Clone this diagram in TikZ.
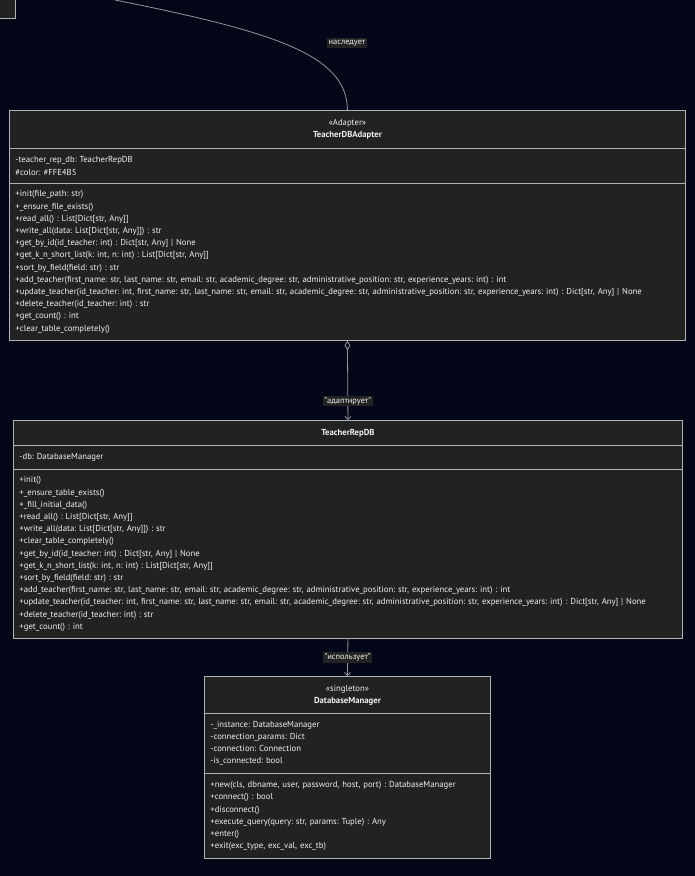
\documentclass[tikz,border=0pt]{standalone}
\usepackage{fontspec}
\setmainfont{PT Sans}
\usepackage{xcolor}
\usetikzlibrary{arrows.meta}

\definecolor{bgnavy}{RGB}{3,7,24}
\definecolor{boxfill}{RGB}{34,34,34}
\definecolor{boxline}{RGB}{178,178,178}
\definecolor{boxtext}{RGB}{240,240,240}
\definecolor{edgeline}{RGB}{150,150,155}
\frenchspacing

\begin{document}
\begin{tikzpicture}[x=1pt, y=-1pt,
  cls/.style={draw=boxline, line width=0.9pt, fill=boxfill, text=boxtext,
              anchor=north west, inner ysep=0pt, inner xsep=6pt,
              font=\fontsize{8.7}{12.2}\selectfont},
  head/.style={cls, align=center},
  part/.style={cls, align=left},
  elabel/.style={fill=boxfill, text=boxtext, inner sep=1.5pt,
                 font=\fontsize{8.4}{10}\selectfont},
  edge/.style={draw=edgeline, line width=0.8pt},
  >=Stealth
]
  \fill[bgnavy] (0,0) rectangle (695,876);
  \useasboundingbox (0,0) rectangle (695,876);
  \clip (0,0) rectangle (695,876);
  % parent class, cut off at the top edge
  \draw[draw=boxline, line width=0.9pt, fill=boxfill] (-30,-30) rectangle (15,18);

  % TeacherDBAdapter
  \node[head, minimum width=676pt, minimum height=38pt] (adapterHead) at (9,110)
    {«Adapter»\\\textbf{TeacherDBAdapter}};
  \node[part, minimum width=676pt, minimum height=35pt, text width=664pt] (adapterAttr) at (9,148)
    {-teacher\_rep\_db: TeacherRepDB\\\#color: \#FFE4B5};
  \node[part, minimum width=676pt, minimum height=157pt, text width=664pt] (adapterOps) at (9,183)
    {+init(file\_path: str)\\
     +\_ensure\_file\_exists()\\
     +read\_all() : List[Dict[str, Any]]\\
     +write\_all(data: List[Dict[str, Any]]) : str\\
     +get\_by\_id(id\_teacher: int) : Dict[str, Any] | None\\
     +get\_k\_n\_short\_list(k: int, n: int) : List[Dict[str, Any]]\\
     +sort\_by\_field(field: str) : str\\
     +add\_teacher(first\_name: str, last\_name: str, email: str, academic\_degree: str, administrative\_position: str, experience\_years: int) : int\\
     +update\_teacher(id\_teacher: int, first\_name: str, last\_name: str, email: str, academic\_degree: str, administrative\_position: str, experience\_years: int) : Dict[str, Any] | None\\
     +delete\_teacher(id\_teacher: int) : str\\
     +get\_count() : int\\
     +clear\_table\_completely()};

  % TeacherRepDB
  \node[head, minimum width=669pt, minimum height=25pt] (repoHead) at (13,420)
    {\textbf{TeacherRepDB}};
  \node[part, minimum width=669pt, minimum height=24pt, text width=657pt] (repoAttr) at (13,445)
    {-db: DatabaseManager};
  \node[part, minimum width=669pt, minimum height=169pt, text width=657pt] (repoOps) at (13,469)
    {+init()\\
     +\_ensure\_table\_exists()\\
     +\_fill\_initial\_data()\\
     +read\_all() : List[Dict[str, Any]]\\
     +write\_all(data: List[Dict[str, Any]]) : str\\
     +clear\_table\_completely()\\
     +get\_by\_id(id\_teacher: int) : Dict[str, Any] | None\\
     +get\_k\_n\_short\_list(k: int, n: int) : List[Dict[str, Any]]\\
     +sort\_by\_field(field: str) : str\\
     +add\_teacher(first\_name: str, last\_name: str, email: str, academic\_degree: str, administrative\_position: str, experience\_years: int) : int\\
     +update\_teacher(id\_teacher: int, first\_name: str, last\_name: str, email: str, academic\_degree: str, administrative\_position: str, experience\_years: int) : Dict[str, Any] | None\\
     +delete\_teacher(id\_teacher: int) : str\\
     +get\_count() : int};

  % DatabaseManager
  \node[head, minimum width=286pt, minimum height=37pt] (dbmHead) at (204,676)
    {«singleton»\\\textbf{DatabaseManager}};
  \node[part, minimum width=286pt, minimum height=60pt, text width=274pt] (dbmAttr) at (204,713)
    {-\_instance: DatabaseManager\\
     -connection\_params: Dict\\
     -connection: Connection\\
     -is\_connected: bool};
  \node[part, minimum width=286pt, minimum height=85pt, text width=274pt] (dbmOps) at (204,773)
    {+new(cls, dbname, user, password, host, port) : DatabaseManager\\
     +connect() : bool\\
     +disconnect()\\
     +execute\_query(query: str, params: Tuple) : Any\\
     +enter()\\
     +exit(exc\_type, exc\_val, exc\_tb)};

  % connectors
  \coordinate (parentEnd) at (115,0);
  \draw[edge] (parentEnd) .. controls (275,32) and (347,55) .. (adapterHead.north)
    node[elabel] at (347,43) {наследует};
  \draw[edge, {Diamond[open, length=9pt, width=6pt]}-{Straight Barb[length=3pt, width=6pt]}]
    (adapterOps.south) -- (repoHead.north) node[elabel, pos=0.76] {"адаптирует"};
  \draw[edge, -{Straight Barb[length=3pt, width=6pt]}]
    (repoOps.south) -- (dbmHead.north) node[elabel, pos=0.5] {"использует"};
\end{tikzpicture}
\end{document}
